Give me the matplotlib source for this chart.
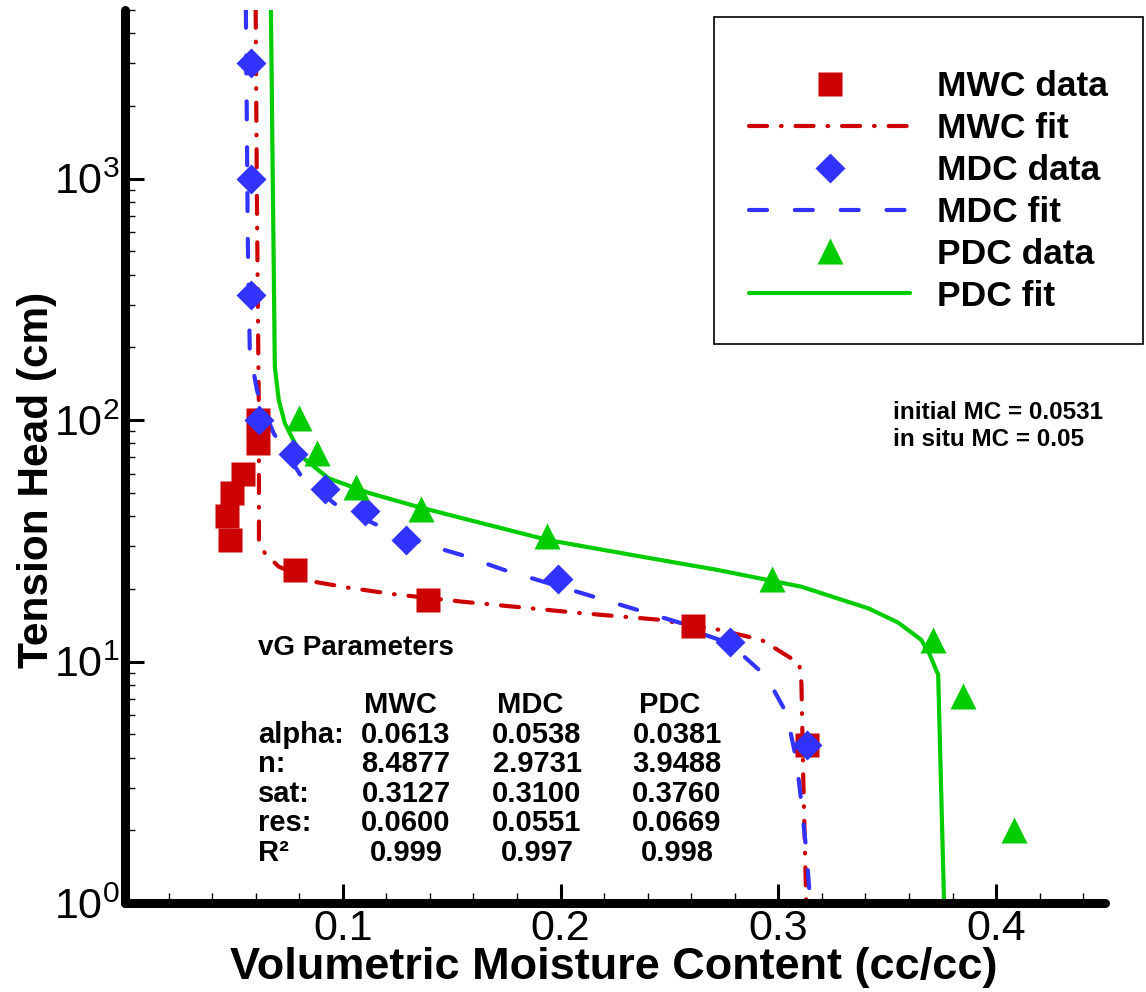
import matplotlib
matplotlib.use('Agg')
import matplotlib.pyplot as plt
from matplotlib.ticker import MultipleLocator, LogLocator, NullFormatter
from matplotlib.patches import Rectangle

plt.rcParams['font.family'] = ['Liberation Sans', 'DejaVu Sans']
plt.rcParams['lines.scale_dashes'] = False

# measured points (moisture content, tension head in cm)
mwc_theta = [0.061, 0.061, 0.054, 0.049, 0.047, 0.048, 0.078, 0.139, 0.261, 0.313]
mwc_h = [100, 80, 60, 50, 40, 32, 24, 18, 14, 4.5]

mdc_theta = [0.058, 0.058, 0.058, 0.0615, 0.077, 0.092, 0.110, 0.129, 0.199, 0.278, 0.313]
mdc_h = [3000, 1000, 330, 100, 72, 52, 42, 32, 22, 12, 4.5]

pdc_theta = [0.080, 0.088, 0.106, 0.136, 0.194, 0.297, 0.371, 0.385, 0.408]
pdc_h = [102, 73, 53, 43, 33, 22, 12.3, 7.2, 2.0]

# fitted van Genuchten curves
mwc_fit_theta = [0.0600, 0.0605, 0.0610, 0.0615, 0.0615, 0.0642, 0.0706, 0.0880, 0.1028,
                 0.1234, 0.1546, 0.2080, 0.2450, 0.2716, 0.2922, 0.3096, 0.3106, 0.3115, 0.3128]
mwc_fit_h = [5000, 1000, 300, 100, 31.8, 28.1, 24.7, 21.3, 20.2,
             19.0, 17.7, 15.9, 14.9, 13.6, 12.3, 9.83, 8.15, 3.14, 1.0]

mdc_fit_theta = [0.0555, 0.0564, 0.0573, 0.0606, 0.0619, 0.0683, 0.0812, 0.0982, 0.1179,
                 0.1376, 0.1546, 0.1743, 0.2156, 0.2358, 0.2555, 0.2600, 0.2775, 0.2922,
                 0.2954, 0.3037, 0.3083, 0.3106, 0.3128, 0.3147]
mdc_fit_h = [5000, 554, 194, 133, 121, 88, 58, 43.6, 36.0,
             30.6, 27.6, 23.9, 18.5, 16.3, 14.4, 13.5, 11.9, 9.05,
             8.38, 6.12, 3.91, 2.59, 1.66, 1.0]

pdc_fit_theta = [0.0670, 0.0688, 0.0706, 0.0734, 0.0812, 0.0936, 0.1119, 0.1349, 0.1578,
                 0.1945, 0.2339, 0.2725, 0.3106, 0.3413, 0.3550, 0.3656, 0.3693, 0.3734, 0.3761]
pdc_fit_h = [5000, 166, 121, 97, 70.3, 57.3, 49.9, 43.6, 38.6,
             31.8, 27.5, 23.9, 20.4, 16.6, 14.5, 12.3, 10.8, 8.81, 1.0]

# vG parameter table
param_names = ['alpha:', 'n:', 'sat:', 'res:', 'R\u00b2']
mwc_params = ['0.0613', '8.4877', '0.3127', '0.0600', '0.999']
mdc_params = ['0.0538', '2.9731', '0.3100', '0.0551', '0.997']
pdc_params = ['0.0381', '3.9488', '0.3760', '0.0669', '0.998']

red = '#cc0000'
blue = '#3333ff'
green = '#00cc00'

W, H = 1146, 992
fig = plt.figure(figsize=(W / 100, H / 100), dpi=100)


def fx(px):
    return px / W


def fy(py):
    return 1 - py / H


ax = fig.add_axes([fx(125), fy(903), fx(1105) - fx(125), fy(9.7) - fy(903)])

l1, = ax.plot(mwc_fit_theta, mwc_fit_h, color=red, lw=3, dashes=(13, 10, 0.5, 10),
              dash_capstyle='round', label='MWC fit')
l2, = ax.plot(mdc_fit_theta, mdc_fit_h, color=blue, lw=3, dashes=(13, 20),
              dash_capstyle='round', label='MDC fit')
l3, = ax.plot(pdc_fit_theta, pdc_fit_h, color=green, lw=3,
              solid_capstyle='round', label='PDC fit')

m1, = ax.plot(mwc_theta, mwc_h, 's', color=red, ms=17, mec='none', label='MWC data')
m2, = ax.plot(mdc_theta, mdc_h, 'D', color=blue, ms=15.5, mec='none', label='MDC data')
m3, = ax.plot(pdc_theta, pdc_h, '^', color=green, ms=19, mec='none', label='PDC data')

ax.set_yscale('log')
ax.set_xlim(0, 0.45)
ax.set_ylim(1, 5000)

ax.set_xticks([0.1, 0.2, 0.3, 0.4])
ax.set_xticklabels(['0.1', '0.2', '0.3', '0.4'])
ax.xaxis.set_minor_locator(MultipleLocator(0.02))
ax.yaxis.set_major_locator(LogLocator(base=10, numticks=10))
ax.yaxis.set_minor_locator(LogLocator(base=10, subs=range(2, 10), numticks=20))
ax.yaxis.set_minor_formatter(NullFormatter())

ax.tick_params(which='major', direction='in', length=14, width=2.2, labelsize=31, pad=4)
ax.tick_params(which='minor', direction='in', length=7, width=1.0)
ax.tick_params(top=False, right=False, which='both')

for side in ['top', 'right']:
    ax.spines[side].set_visible(False)
for side in ['left', 'bottom']:
    ax.spines[side].set_linewidth(6.5)
    ax.spines[side].set_capstyle('round')

fig.text(fx(614), fy(967), 'Volumetric Moisture Content (cc/cc)', fontsize=32.5,
         fontweight='bold', ha='center', va='center')
fig.text(fx(37), fy(480), 'Tension Head (cm)', fontsize=30.5, fontweight='bold',
         rotation=90, ha='center', va='center')

# legend inside its own box
fig.patches.append(Rectangle((fx(714), fy(344)), fx(1143) - fx(714), fy(17) - fy(344),
                             transform=fig.transFigure, fill=False, ec='black', lw=1.2))
fig.legend(handles=[m1, l1, m2, l2, m3, l3], loc='center left',
           bbox_to_anchor=(fx(749), fy(191.5)), bbox_transform=fig.transFigure,
           frameon=False, prop={'weight': 'bold', 'size': 25.5},
           handlelength=4.55, handletextpad=0.76, labelspacing=0.25,
           borderpad=0, borderaxespad=0, numpoints=1)

fig.text(fx(893), fy(413), 'initial MC = 0.0531', fontsize=17.5, fontweight='bold',
         ha='left', va='center')
fig.text(fx(893), fy(439), 'in situ MC = 0.05', fontsize=17.5, fontweight='bold',
         ha='left', va='center')

# vG parameter block
fig.text(fx(258), fy(648), 'vG Parameters', fontsize=20, fontweight='bold',
         ha='left', va='center')
for name, cx in zip(['MWC', 'MDC', 'PDC'], [400, 530, 670]):
    fig.text(fx(cx), fy(705), name, fontsize=21, fontweight='bold',
             ha='center', va='center')
row_y = [735, 764, 794, 823, 853]
for i, yy in enumerate(row_y):
    fig.text(fx(258), fy(yy), param_names[i], fontsize=21, fontweight='bold',
             ha='left', va='center')
    for col, cx in zip([mwc_params, mdc_params, pdc_params], [406, 537, 677]):
        fig.text(fx(cx), fy(yy), col[i], fontsize=21, fontweight='bold',
                 ha='center', va='center')

fig.savefig('out.png', dpi=100)
